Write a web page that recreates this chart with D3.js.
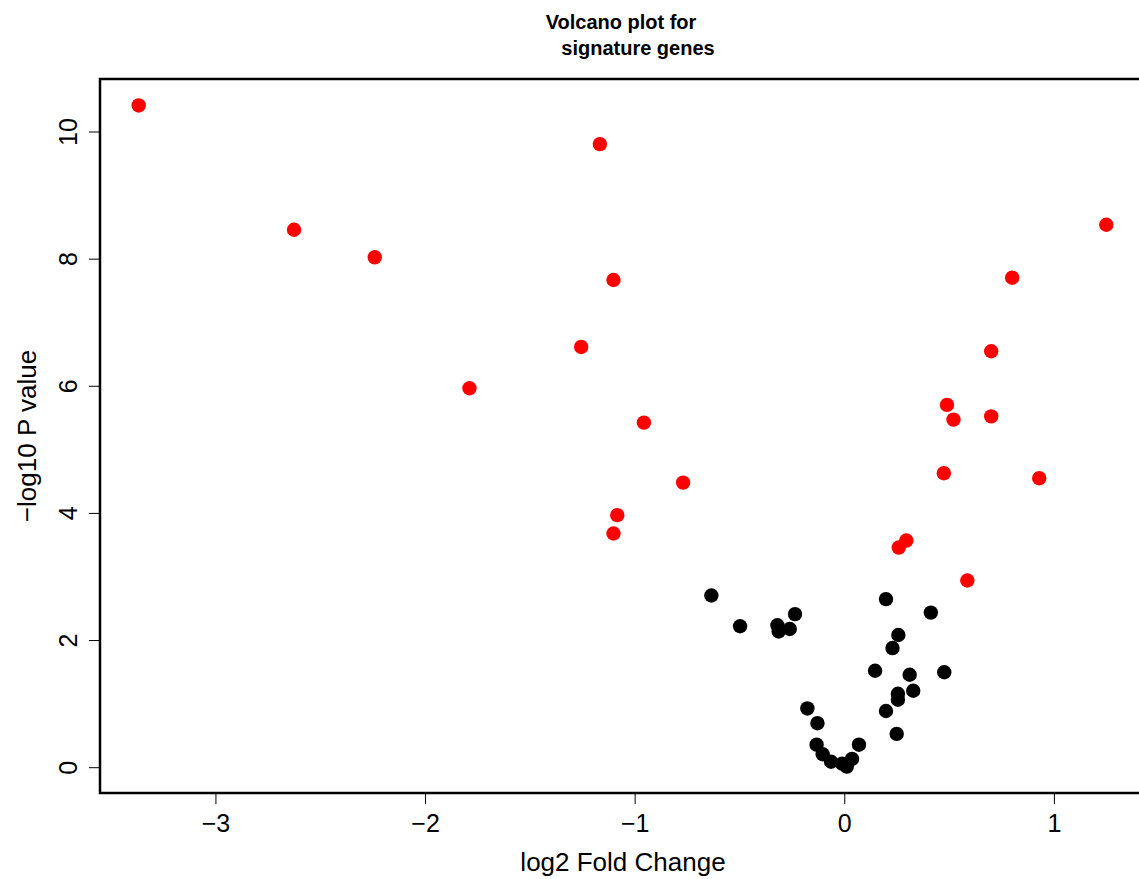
<!doctype html>
<html lang="en">
<head>
  <meta charset="UTF-8">
  <title>Volcano plot</title>
  <script src="https://cdn.jsdelivr.net/npm/d3@7"></script>
  <style>
    body { margin: 0; background: #fff; }
    text { font-family: "Liberation Sans", Arial, sans-serif; fill: #000; }
  </style>
</head>
<body>
<div id="chart"></div>
<script>
  // log2 fold change / -log10 p, significant genes (red)
  var sigFC = [-3.366, -2.625, -2.240, -1.788, -1.166, -1.101, -1.255, -0.956, -0.769, -1.083, -1.101,
               1.250, 0.801, 0.701, 0.490, 0.521, 0.701, 0.475, 0.930, 0.296, 0.260, 0.587];
  var sigP  = [10.41, 8.455, 8.021, 5.961, 9.802, 7.664, 6.611, 5.421, 4.477, 3.965, 3.676,
               8.533, 7.700, 6.543, 5.699, 5.468, 5.518, 4.625, 4.546, 3.565, 3.455, 2.937];
  // the rest (black)
  var nsFC = [-0.634, -0.497, -0.319, -0.313, -0.260, -0.235, 0.199, 0.413, 0.258, 0.230, 0.147, 0.312,
              0.477, 0.329, 0.256, 0.256, 0.199, 0.250, -0.176, -0.128, -0.132, -0.103, -0.063, -0.010,
              0.012, 0.037, 0.070];
  var nsP  = [2.701, 2.217, 2.232, 2.135, 2.174, 2.408, 2.644, 2.432, 2.080, 1.874, 1.517, 1.454,
              1.493, 1.203, 1.155, 1.061, 0.884, 0.524, 0.924, 0.692, 0.354, 0.204, 0.086, 0.055,
              0.01, 0.130, 0.354];
  var xTicks = [-3, -2, -1, 0, 1];
  var yTicks = [0, 2, 4, 6, 8, 10];

  (function() {
    var width = 1139, height = 879;
    // plot box (right edge runs past the window, as in the original)
    var pLeft = 100, pRight = 1145, pTop = 79, pBottom = 793;

    var points = nsFC.map(function(d, i) { return {x: d, y: nsP[i], c: "#000000"}; })
      .concat(sigFC.map(function(d, i) { return {x: d, y: sigP[i], c: "#ff0000"}; }));

    // R style: data range padded by 4% on each side
    function pad(ext) {
      var r = (ext[1] - ext[0]) * 0.04;
      return [ext[0] - r, ext[1] + r];
    }
    var x = d3.scaleLinear()
        .domain(pad(d3.extent(points, function(d) { return d.x; })))
        .range([pLeft, pRight]);
    var y = d3.scaleLinear()
        .domain(pad(d3.extent(points, function(d) { return d.y; })))
        .range([pBottom, pTop]);

    var svg = d3.select("#chart").append("svg")
        .attr("width", width)
        .attr("height", height);

    svg.append("g")
        .selectAll("circle")
        .data(points)
        .enter().append("circle")
        .attr("cx", function(d) { return x(d.x); })
        .attr("cy", function(d) { return y(d.y); })
        .attr("r", 7.2)
        .style("fill", function(d) { return d.c; });

    // x axis
    var xAxis = svg.append("g")
        .attr("transform", "translate(0," + pBottom + ")")
        .call(d3.axisBottom(x).tickValues(xTicks).tickFormat(d3.format("d"))
          .tickSize(11).tickPadding(10));
    xAxis.select(".domain").remove();
    xAxis.selectAll("line").attr("stroke", "#000").attr("stroke-width", 1);
    xAxis.selectAll("text").attr("font-family", null).style("font-size", "25px");

    // y axis, labels parallel to the axis
    var yAxis = svg.append("g")
        .attr("transform", "translate(" + pLeft + ",0)")
        .call(d3.axisLeft(y).tickValues(yTicks).tickFormat(d3.format("d")).tickSize(11));
    yAxis.select(".domain").remove();
    yAxis.selectAll("line").attr("stroke", "#000").attr("stroke-width", 1);
    yAxis.selectAll("text")
        .attr("font-family", null)
        .attr("x", null)
        .attr("text-anchor", "middle")
        .attr("transform", "translate(-32,0) rotate(-90)")
        .attr("dy", "0.35em")
        .style("font-size", "25px");

    svg.append("rect")
        .attr("x", pLeft).attr("y", pTop)
        .attr("width", pRight - pLeft).attr("height", pBottom - pTop)
        .style("fill", "none").style("stroke", "#000").style("stroke-width", 2.5);

    svg.append("text")
        .attr("x", 623).attr("y", 871)
        .attr("text-anchor", "middle")
        .style("font-size", "26px")
        .text("log2 Fold Change");

    svg.append("text")
        .attr("transform", "translate(36,436) rotate(-90)")
        .attr("text-anchor", "middle")
        .style("font-size", "26px")
        .text("\u2212log10 P value");

    var title = svg.append("text")
        .attr("text-anchor", "middle")
        .style("font-size", "20px")
        .style("font-weight", "bold");
    title.append("tspan").attr("x", 621).attr("y", 29).text("Volcano plot for");
    title.append("tspan").attr("x", 638).attr("y", 55).text("signature genes");
  })();
</script>
</body>
</html>
